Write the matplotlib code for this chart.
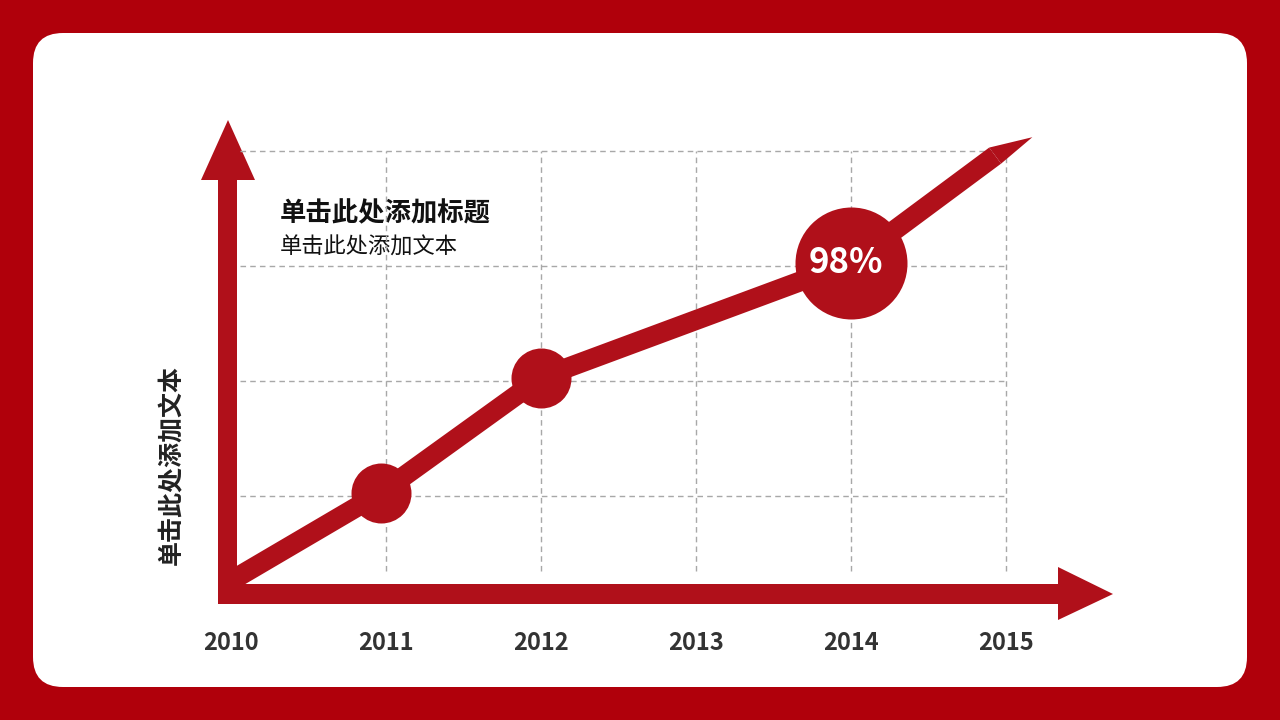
import matplotlib.pyplot as plt
from matplotlib.patches import FancyBboxPatch, Polygon, Circle

plt.rcParams['font.family'] = ['Noto Sans CJK SC', 'DejaVu Sans']

# data (years on x, grid levels on y)
years = [2010, 2011, 2012, 2013, 2014, 2015]
line_x = [2010.01, 2010.97, 2012.0, 2014.0, 2014.93]
line_y = [0.27, 1.03, 2.03, 3.03, 3.96]
tip = (2015.17, 4.12)
dot_x = [2010.97, 2012.0, 2014.0]
dot_y = [1.03, 2.03, 3.03]
dot_r = [30, 30, 56]  # pixels
dot_labels = ['', '', '98%']
grid_x = [2011, 2012, 2013, 2014, 2015]
grid_y = [1, 2, 3, 4]
title = '单击此处添加标题'
subtitle = '单击此处添加文本'
ylabel = '单击此处添加文本'

RED = '#b0101a'
BORDER = '#b0000b'
PX_X, PX_Y = 155.0, 115.0  # pixels per unit

fig = plt.figure(figsize=(12.8, 7.2), dpi=100)
fig.patch.set_facecolor(BORDER)
bg = fig.add_axes([0, 0, 1, 1])
bg.set_xlim(0, 1280); bg.set_ylim(720, 0); bg.axis('off')
bg.add_patch(FancyBboxPatch((53, 53), 1174, 614, boxstyle='round,pad=0,rounding_size=30',
                            fc='white', ec='none', mutation_aspect=1))
bg.patches[0].set_boxstyle('round,pad=20,rounding_size=30')

ax = fig.add_axes([0, 0, 1, 1], zorder=2)
ax.patch.set_alpha(0)
ax.set_xlim(2010 - 231 / PX_X, 2010 + 1049 / PX_X)
ax.set_ylim((611 - 720) / PX_Y, 611 / PX_Y)
ax.axis('off')

# grid
for gx in grid_x:
    ax.plot([gx, gx], [0.35, 4.0], ls='--', color='#a8a8a8', lw=1, dashes=(4, 3), zorder=1)
for gy in grid_y:
    ax.plot([2010.06, 2015.0], [gy, gy], ls='--', color='#a8a8a8', lw=1, dashes=(4, 3), zorder=1)

# axes arrows (pixel coordinates on background)
bg.add_patch(Polygon([(218, 604), (218, 180), (201, 180), (228, 120), (255, 180), (237, 180),
                      (237, 584), (1058, 584), (1058, 567), (1113, 594), (1058, 620), (1058, 604)],
                     closed=True, fc=RED, ec='none', zorder=3))
bg.set_zorder(1)

# data line
ax.plot(line_x, line_y, color=RED, lw=14.4, solid_capstyle='butt', solid_joinstyle='round', zorder=3)
# pointed tip
ex, ey = line_x[-1], line_y[-1]
dx = (ex - line_x[-2]) * PX_X
dy = (ey - line_y[-2]) * PX_Y
n = (dx ** 2 + dy ** 2) ** 0.5
px, py = -dy / n * 10, dx / n * 10
ax.add_patch(Polygon([(ex + px / PX_X, ey + py / PX_Y), tip, (ex - px / PX_X, ey - py / PX_Y)],
                     closed=True, fc=RED, ec='none', zorder=3))

for x, y, r, lab in zip(dot_x, dot_y, dot_r, dot_labels):
    ax.scatter([x], [y], s=(2 * r * 0.72) ** 2, color=RED, zorder=4, linewidths=0)
    if lab:
        ax.text(x - 0.03, y, lab, color='white', fontsize=25, fontweight='bold',
                ha='center', va='center', zorder=5)

for yr in years:
    ax.text(yr, (611 - 643) / PX_Y, str(yr), fontsize=17, fontweight='bold', color='#333333',
            ha='center', va='center')

bg.text(280, 214, title, fontsize=19, fontweight='bold', color='#111111', va='center', zorder=5)
bg.text(280, 247, subtitle, fontsize=16, color='#111111', va='center', zorder=5)
bg.text(172, 465, ylabel, fontsize=18, fontweight='bold', color='#222222', rotation=90,
        ha='center', va='center', zorder=5)

fig.savefig('out.png', dpi=100, facecolor=BORDER)
